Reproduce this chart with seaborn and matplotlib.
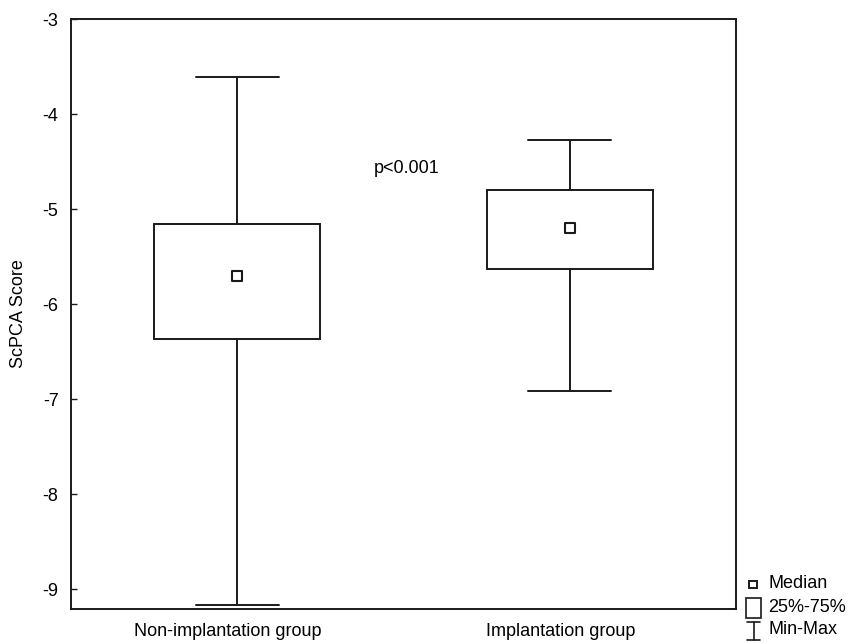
import matplotlib
matplotlib.use("Agg")
import matplotlib.pyplot as plt
from matplotlib.patches import Rectangle
from matplotlib.lines import Line2D
from matplotlib.transforms import ScaledTranslation
import pandas as pd
import seaborn as sns

# Summary statistics per group: min, 25%, median, 75%, max
groups = ["Non-implantation group", "Implantation group"]
mins = [-9.17, -6.92]
q1s = [-6.37, -5.63]
medians = [-5.70, -5.20]
q3s = [-5.16, -4.80]
maxs = [-3.61, -4.27]

y_ticks = [-3, -4, -5, -6, -7, -8, -9]
y_label = "ScPCA Score"
p_text = "p<0.001"
legend_labels = ["Median", "25%-75%", "Min-Max"]

# Five points per group reproduce the quartiles exactly with linear percentiles
rows = []
for g, a, b, c, d, e in zip(groups, mins, q1s, medians, q3s, maxs):
    for v in (a, b, c, d, e):
        rows.append({"group": g, "value": v})
df = pd.DataFrame(rows)
med_df = pd.DataFrame({"group": groups, "value": medians})

sns.set_theme(style="white")
plt.rcParams["font.family"] = ["Liberation Sans", "DejaVu Sans"]
for key in ("text.color", "axes.labelcolor", "xtick.color", "ytick.color"):
    plt.rcParams[key] = "black"

W, H = 861, 643
fig = plt.figure(figsize=(W / 100, H / 100), dpi=100)
ax_l, ax_r, ax_t, ax_b = 71, 736, 19, 609
ax = fig.add_axes([ax_l / W, 1 - ax_b / H, (ax_r - ax_l) / W, (ax_b - ax_t) / H])

ink = "#1a1a1a"
lw = 1.4
sns.boxplot(
    data=df, x="group", y="value", order=groups, ax=ax,
    whis=(0, 100), width=0.5, color="white", linecolor=ink,
    linewidth=lw, showfliers=False,
    medianprops={"visible": False},
    boxprops={"facecolor": "white"},
)
sns.stripplot(
    data=med_df, x="group", y="value", order=groups, ax=ax,
    jitter=False, marker="s", size=7.5, color="white",
    edgecolor=ink, linewidth=1.5, zorder=5,
)

ax.set_xlim(-0.5, 1.5)
ax.set_ylim(-9.21, -3)
ax.set_yticks(y_ticks)
ax.set_yticklabels([str(t) for t in y_ticks])
ax.set_xlabel("")
ax.set_ylabel(y_label, fontsize=13, labelpad=11)
ax.tick_params(axis="y", which="both", left=True, direction="in", length=4,
               width=1, color=ink, labelsize=13, pad=9)
ax.tick_params(axis="x", bottom=False, labelsize=13, pad=4)
shift = ScaledTranslation(-9 / 100, 0, fig.dpi_scale_trans)
for lab in ax.get_xticklabels():
    lab.set_transform(lab.get_transform() + shift)
for s in ax.spines.values():
    s.set_visible(True)
    s.set_color(ink)
    s.set_linewidth(1.4)

ax.text(0.51, -4.57, p_text, ha="center", va="center", fontsize=13)

# Key for the box symbols, placed beside the lower right corner
fs = 13
tx = 768 / W
ys = [584, 608, 630]
for y, lab in zip(ys, legend_labels):
    fig.text(tx, 1 - y / H, lab, fontsize=fs, va="center")

fig.add_artist(Rectangle((749 / W, 1 - 588 / H), 8 / W, 7 / H,
                         transform=fig.transFigure, facecolor="white",
                         edgecolor=ink, linewidth=1.4))
fig.add_artist(Rectangle((746 / W, 1 - 618 / H), 15 / W, 20 / H,
                         transform=fig.transFigure, facecolor="white",
                         edgecolor=ink, linewidth=1.2))
for xs, yy in (([747, 760], [622, 622]), ([747, 760], [640, 640]), ([753.5, 753.5], [622, 640])):
    fig.add_artist(Line2D([x / W for x in xs], [1 - y / H for y in yy],
                          transform=fig.transFigure, color=ink, linewidth=1.2))

fig.savefig("out.png", dpi=100, facecolor="white")
